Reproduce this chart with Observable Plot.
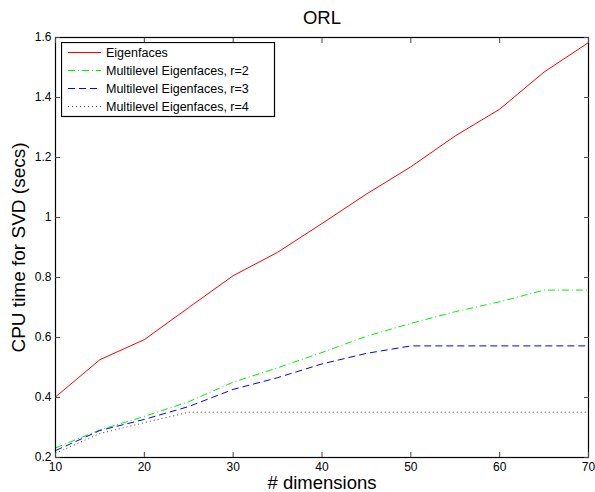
<!DOCTYPE html>
<html>
<head>
<meta charset="utf-8">
<script src="https://cdn.jsdelivr.net/npm/d3@7"></script>
<script src="https://cdn.jsdelivr.net/npm/@observablehq/plot@0.6"></script>
<style>
  html, body { margin: 0; padding: 0; background: #fff; }
  #wrap { position: relative; width: 595px; height: 492px; font-family: "Liberation Sans", Arial, Helvetica, sans-serif; }
  #legend { position: absolute; left: 61px; top: 42px; }
</style>
</head>
<body>
<div id="wrap"></div>
<script>
const title = "ORL";
const xLabel = "# dimensions";
const yLabel = "CPU time for SVD (secs)";
const dims = [10, 15, 20, 25, 30, 35, 40, 45, 50, 55, 60, 65, 70];
const eigenfaces = [0.402, 0.526, 0.593, 0.700, 0.806, 0.884, 0.980, 1.078, 1.169, 1.272, 1.361, 1.485, 1.583];
const multilevelR2 = [0.232, 0.292, 0.337, 0.386, 0.451, 0.499, 0.550, 0.604, 0.647, 0.686, 0.719, 0.758, 0.758];
const multilevelR3 = [0.223, 0.290, 0.327, 0.370, 0.427, 0.466, 0.512, 0.547, 0.572, 0.572, 0.572, 0.572, 0.572];
const multilevelR4 = [0.214, 0.280, 0.316, 0.351, 0.351, 0.351, 0.351, 0.351, 0.351, 0.351, 0.351, 0.351, 0.351];
const seriesNames = ["Eigenfaces", "Multilevel Eigenfaces, r=2", "Multilevel Eigenfaces, r=3", "Multilevel Eigenfaces, r=4"];
const xTicks = [10, 20, 30, 40, 50, 60, 70];
const yTicks = [0.2, 0.4, 0.6, 0.8, 1, 1.2, 1.4, 1.6];

const styles = [
  {stroke: "#ff0000", dash: null},
  {stroke: "#00ee00", dash: "7,3,1,3"},
  {stroke: "#0000ff", dash: "7,4"},
  {stroke: "#444444", dash: "1,3"}
];
const seriesValues = [eigenfaces, multilevelR2, multilevelR3, multilevelR4];
const rows = seriesNames.flatMap((name, i) => dims.map((d, j) => ({series: name, idx: i, x: d, y: seriesValues[i][j]})));

const fontFamily = "Liberation Sans, Arial, Helvetica, sans-serif";

const lineMarks = seriesNames.map((name, i) =>
  Plot.line(rows.filter(r => r.idx === i), {
    x: "x", y: "y", stroke: styles[i].stroke, strokeWidth: 1,
    strokeDasharray: styles[i].dash, strokeLinejoin: "miter", strokeLinecap: "butt"
  })
);

const chart = Plot.plot({
  width: 595,
  height: 492,
  marginLeft: 55,
  marginRight: 7,
  marginTop: 37,
  marginBottom: 35,
  style: {fontFamily, fontSize: "12px", color: "#000", background: "#fff", overflow: "visible"},
  x: {domain: [10, 70], ticks: xTicks},
  y: {domain: [0.2, 1.6], ticks: yTicks},
  marks: [
    ...lineMarks,
    Plot.frame({stroke: "#000", strokeWidth: 1.2}),
    Plot.axisX(xTicks, {anchor: "bottom", tickSize: -5, tickPadding: 10, label: null, stroke: "#444", fontSize: 12, tickFormat: d => String(d)}),
    Plot.axisX(xTicks, {anchor: "top", tickSize: -5, text: null, label: null, stroke: "#444"}),
    Plot.axisY(yTicks, {anchor: "left", tickSize: -5, tickPadding: 9, label: null, stroke: "#444", fontSize: 12, tickFormat: d => String(d)}),
    Plot.axisY(yTicks, {anchor: "right", tickSize: -5, text: null, label: null, stroke: "#444"}),
    Plot.text([title], {frameAnchor: "top", dy: -19, text: d => d, fontSize: 18.5, lineAnchor: "middle", textAnchor: "middle"}),
    Plot.text([xLabel], {frameAnchor: "bottom", dy: 26, text: d => d, fontSize: 18.5, lineAnchor: "middle", textAnchor: "middle"}),
    Plot.text([yLabel], {frameAnchor: "left", dx: -37, rotate: -90, text: d => d, fontSize: 19, lineAnchor: "middle", textAnchor: "middle"})
  ]
});
const wrap = document.getElementById("wrap");
wrap.appendChild(chart);

// Legend overlay inside the axes
const lw = 213, lh = 74;
const legend = d3.create("svg").attr("id", "legend").attr("width", lw + 2).attr("height", lh + 2);
legend.append("rect").attr("x", 0.5).attr("y", 0.5).attr("width", lw).attr("height", lh)
  .attr("fill", "#fff").attr("stroke", "#000").attr("stroke-width", 1.2);
seriesNames.forEach((name, i) => {
  const cy = 10.5 + i * 18;
  legend.append("line").attr("x1", 7).attr("x2", 40).attr("y1", cy).attr("y2", cy)
    .attr("stroke", styles[i].stroke).attr("stroke-width", 1)
    .attr("stroke-dasharray", styles[i].dash);
  legend.append("text").attr("x", 45).attr("y", cy).attr("dy", "0.35em")
    .attr("font-family", fontFamily).attr("font-size", 12.5).attr("fill", "#000").text(name);
});
wrap.appendChild(legend.node());
</script>
</body>
</html>
